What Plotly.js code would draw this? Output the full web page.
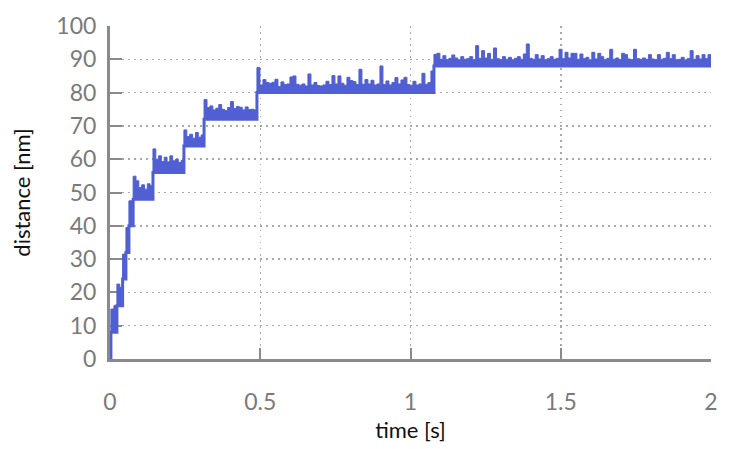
<!DOCTYPE html>
<html>
<head>
<meta charset="utf-8">
<script src="https://cdn.plot.ly/plotly-3.0.1.min.js"></script>
<style>html,body{margin:0;padding:0;background:#fff;}#chart{width:747px;height:449px;}</style>
</head>
<body>
<div id="chart"></div>
<script>
// Step levels (nm) and the times (s) at which each level starts
const stepLevels = [0, 8, 16, 24, 32, 40, 48, 56, 64, 72, 80, 88];
const stepTimes  = [0, 0.003, 0.023, 0.042, 0.053, 0.063, 0.077, 0.143, 0.246, 0.313, 0.489, 1.078];
const endTime = 2.0;

// Upper edge of the noisy trace on each level (nm), read left to right
const noise0  = [0];
const noise8  = [15, 16];
const noise16 = [22.5, 21.5];
const noise24 = [31.5];
const noise32 = [39.5];
const noise40 = [47.5];
const noise48 = [54.9, 53.5, 51.5, 52.3, 51.0, 52.6, 52.0];
const noise56 = [63.1, 60.0, 61.0, 59.3, 60.6, 59.2, 61.0, 59.5, 60.0, 59.0, 59.6];
const noise64 = [68.8, 66.8, 67.5, 66.3, 68.0, 66.6, 67.3];
const noise72 = [77.9, 75.5, 76.0, 74.8, 75.3, 76.4, 75.0, 74.6, 75.5, 77.3, 75.2, 75.8, 75.6, 74.8, 75.7, 74.9, 75.0, 74.8];
const noise80 = [87.5, 82.3, 83.9, 83.0, 82.8, 83.1, 84.0, 81.8, 83.2, 82.4, 82.6, 84.7, 85.0, 82.5, 82.2, 82.6, 82.0, 85.6, 82.3, 83.0,
                 82.1, 82.0, 82.3, 83.4, 82.4, 85.1, 82.6, 85.0, 82.8, 82.2, 84.6, 83.6, 83.3, 82.4, 87.0, 82.5, 83.9, 82.6, 83.7, 82.3,
                 82.6, 88.0, 82.4, 83.5, 82.3, 83.0, 84.5, 82.6, 83.8, 84.6, 82.4, 82.2, 83.4, 82.3, 82.6, 85.8, 82.5, 83.0, 86.5];
const noise88 = [91.5, 91.8, 90.0, 91.1, 89.9, 90.3, 91.3, 90.4, 89.8, 90.8, 90.0, 90.2, 90.8, 89.9, 94.1, 90.3, 92.6, 90.4, 91.8, 90.0,
                 93.4, 90.2, 89.9, 90.8, 90.0, 90.6, 89.8, 90.3, 90.8, 90.0, 91.6, 94.6, 90.3, 90.0, 91.4, 90.1, 91.1, 89.9, 90.2, 90.8,
                 90.0, 90.3, 93.0, 90.2, 92.1, 90.4, 91.8, 91.8, 90.0, 91.6, 90.2, 90.6, 89.8, 92.1, 90.1, 91.8, 90.8, 89.9, 90.3, 93.0,
                 90.0, 90.4, 89.9, 91.8, 91.4, 90.1, 89.9, 93.0, 90.2, 90.0, 90.4, 90.0, 91.4, 90.1, 89.9, 91.4, 90.0, 90.3, 92.1, 90.2,
                 91.4, 89.9, 90.0, 90.6, 89.8, 90.2, 92.6, 90.0, 91.1, 90.1, 91.4, 90.2, 91.4];
const noiseByLevel = [noise0, noise8, noise16, noise24, noise32, noise40, noise48, noise56, noise64, noise72, noise80, noise88];

const xTickVals = [0, 0.5, 1, 1.5, 2];
const xTickText = ['0', '0.5', '1', '1.5', '2'];
const yTickVals = [0, 10, 20, 30, 40, 50, 60, 70, 80, 90, 100];

// baseline (lower edge of the trace)
const baseX = stepTimes.concat([endTime]);
const baseY = stepLevels.concat([stepLevels[stepLevels.length - 1]]);

// upper edge: noise samples spread over each level's duration
const topX = [], topY = [];
for (let k = 0; k < stepLevels.length; k++) {
  const s = stepTimes[k];
  const e = (k + 1 < stepTimes.length) ? stepTimes[k + 1] : endTime;
  const vals = noiseByLevel[k];
  const n = vals.length;
  for (let i = 0; i < n; i++) {
    topX.push(s + (e - s) * i / n);
    topY.push(vals[i]);
  }
  topX.push(e);
  topY.push(vals[n - 1]);
}

const blue = 'rgb(80,95,210)';
const traces = [
  {x: baseX, y: baseY, mode: 'lines', line: {color: blue, width: 3, shape: 'hv'}, hoverinfo: 'skip', cliponaxis: false},
  {x: topX, y: topY, mode: 'lines', line: {color: blue, width: 1, shape: 'hv'}, fill: 'tonexty', fillcolor: blue, hoverinfo: 'skip', cliponaxis: false}
];

const tickFont = {family: 'Lato, "Open Sans", sans-serif', size: 23, color: '#7a7a7a'};
const titleFont = {family: 'Lato, "Open Sans", sans-serif', size: 22, color: '#111'};

const layout = {
  width: 747, height: 449,
  margin: {l: 110, r: 36, t: 26, b: 90},
  paper_bgcolor: '#fff', plot_bgcolor: '#fff',
  showlegend: false,
  xaxis: {
    range: [0, 2], tickvals: xTickVals, ticktext: xTickText,
    ticks: 'inside', ticklen: 11, tickwidth: 2, tickcolor: '#8a8a8a',
    showline: true, linecolor: '#8a8a8a', linewidth: 3,
    showgrid: true, gridcolor: '#a8a8a8', griddash: '1.5px,4.5px', gridwidth: 1.5,
    zeroline: false, tickfont: tickFont, ticklabelstandoff: 20,
    title: {text: 'time [s]', font: titleFont, standoff: 10},
    layer: 'below traces', fixedrange: true
  },
  yaxis: {
    range: [0, 100], tickvals: yTickVals,
    ticks: 'inside', ticklen: 12, tickwidth: 2, tickcolor: '#8a8a8a',
    showline: true, linecolor: '#8a8a8a', linewidth: 3,
    showgrid: true, gridcolor: '#a8a8a8', griddash: '1.5px,4.5px', gridwidth: 1.5,
    zeroline: false, tickfont: tickFont, ticklabelstandoff: 6,
    title: {text: 'distance [nm]', font: titleFont, standoff: 20},
    layer: 'below traces', fixedrange: true
  }
};

Plotly.newPlot('chart', traces, layout, {staticPlot: true, displayModeBar: false});
</script>
</body>
</html>
